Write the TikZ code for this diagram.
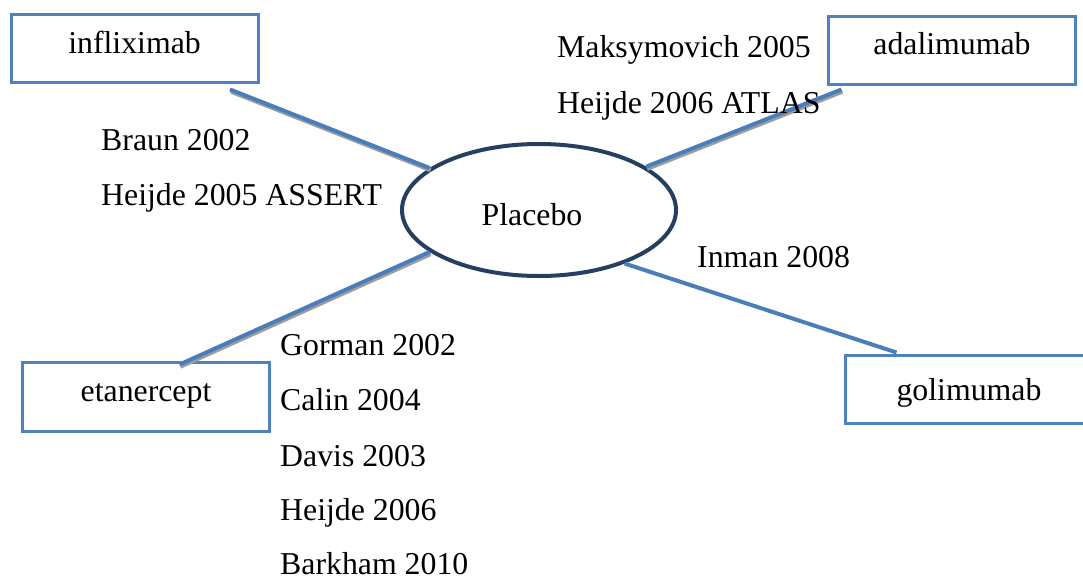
\documentclass[tikz,border=0pt]{standalone}
\usepackage{fontspec}
\setmainfont{Liberation Serif}
\usetikzlibrary{shapes.geometric,calc}
\definecolor{boxblue}{HTML}{4F81BD}
\definecolor{lineblue}{HTML}{4A7EBB}
\definecolor{navy}{HTML}{243F60}
\definecolor{shadowgray}{HTML}{9D9D9D}
\begin{document}
\begin{tikzpicture}[x=1pt,y=-1pt,
  every node/.style={font=\fontsize{31.8}{37}\selectfont},
  drugbox/.style={draw=boxblue, line width=3pt, rectangle, inner sep=0pt,
    minimum width=247pt, minimum height=68pt, text depth=0pt},
  ref/.style={anchor=base west, inner sep=0pt},
  link/.style={draw=lineblue, line width=4pt},
  shadow/.style={draw=shadowgray, line width=4pt, transform canvas={shift={(1pt,-2.2pt)}}}]
\useasboundingbox (0,0) rectangle (1083,578);
\fill[white] (0,0) rectangle (1083,578);

% drug boxes
\node[drugbox, text height=9pt]  (inf) at (134.5,48.5) {infliximab};
\node[drugbox, text height=9pt]  (ada) at (952,50.5)   {adalimumab};
\node[drugbox, text height=9pt, minimum height=69pt] (eta) at (146,397) {etanercept};
\node[drugbox, text height=21pt] (gol) at (969,389.5)  {golimumab};

% placebo
\node[ellipse, draw=navy, line width=4pt, inner sep=0pt,
  minimum width=274pt, minimum height=132pt, text height=0pt, text depth=0pt] (pl) at (539,210) {};
\node[anchor=base, inner sep=0pt] (pltext) at (532,225) {Placebo};

% connectors
\coordinate (infE) at ($(inf.south east)+(-29.5,5.5)$);
\coordinate (adaE) at ($(ada.south west)+(14.5,3.5)$);
\coordinate (etaE) at ($(eta.north west)+(158.5,3.5)$);
\coordinate (golE) at ($(gol.north west)+(52.5,-1.5)$);

\draw[shadow] (infE) -- (pl.159);
\draw[shadow] (adaE) -- (pl.22);
\draw[shadow] (etaE) -- (pl.201);
\draw[link] (infE) -- (pl.159);
\draw[link] (adaE) -- (pl.22);
\draw[link] (etaE) -- (pl.201);
\draw[link] (golE) -- (pl.-32);

% study labels
\node[ref] (braun)  at (101,150) {Braun 2002};
\node[ref] (heij05) at (101,205) {Heijde 2005 ASSERT};
\node[ref] (maks)   at (557,58)  {Maksymovich 2005};
\node[ref] (heij06a) at (557,113) {Heijde 2006 ATLAS};
\node[ref] (inman)  at (697,267) {Inman 2008};
\node[ref] (gorman) at (280,355) {Gorman 2002};
\node[ref] (calin)  at (280,410) {Calin 2004};
\node[ref] (davis)  at (280,466) {Davis 2003};
\node[ref] (heij06) at (280,520) {Heijde 2006};
\node[ref] (bark)   at (280,574) {Barkham 2010};
\end{tikzpicture}
\end{document}
